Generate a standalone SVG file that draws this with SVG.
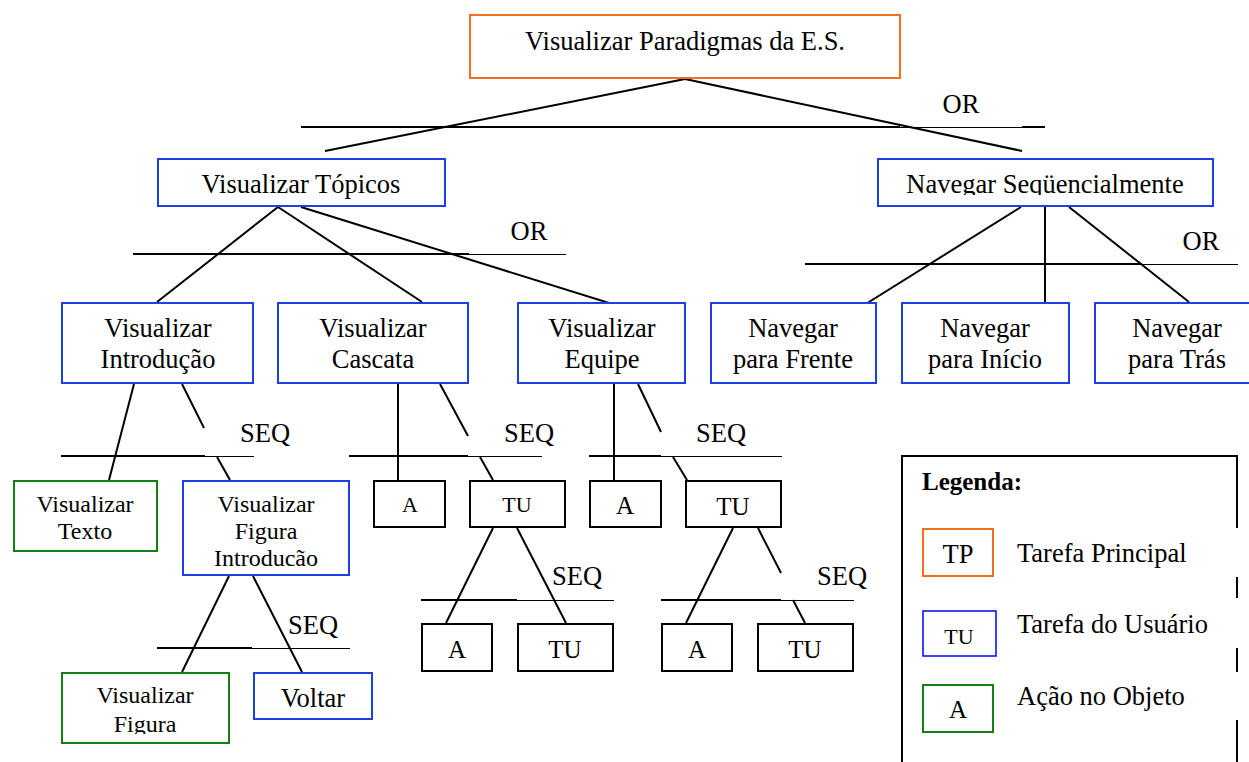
<svg xmlns="http://www.w3.org/2000/svg" width="1249" height="762" viewBox="0 0 1249 762">
  <style>
    .box { fill: #fff; stroke-width: 2; }
    .tp { stroke: #f07020; }
    .tu { stroke: #1f40e6; }
    .ac { stroke: #148014; }
    .bk { stroke: #000; }
    text { font-family: "Liberation Serif", "Times New Roman", serif; font-size: 26.5px; fill: #000; text-anchor: middle; }
    .s24 { font-size: 24px; }
    .s25 { font-size: 25px; }
    .s22 { font-size: 22px; }
    .lbl { text-anchor: start; }
    .ln { stroke: #000; stroke-width: 2; fill: none; }
    .th { stroke: #000; stroke-width: 1; fill: none; }
  </style>
  <defs>
    <clipPath id="clipSeq"><rect x="877" y="158" width="337" height="37"/></clipPath>
    <clipPath id="clipFigIntro"><rect x="182" y="480" width="168" height="86"/></clipPath>
    <clipPath id="clipFig"><rect x="61" y="672" width="169" height="62"/></clipPath>
  </defs>
  <rect width="1249" height="762" fill="#fff"/>

  <!-- connectors and decomposition bars -->
  <g id="connectors">
    <!-- root: OR -->
    <line class="ln" x1="685" y1="79" x2="325" y2="151"/>
    <line class="ln" x1="685" y1="79" x2="1022" y2="151"/>
    <line class="ln" x1="301" y1="127" x2="900" y2="127"/>
    <line class="th" x1="900" y1="127.5" x2="1022" y2="127.5"/>
    <line class="ln" x1="1022" y1="127" x2="1045" y2="127"/>
    <text x="961" y="113">OR</text>

    <!-- Visualizar Tópicos: OR -->
    <line class="ln" x1="278" y1="207" x2="157" y2="302"/>
    <line class="ln" x1="278" y1="207" x2="422" y2="302"/>
    <line class="ln" x1="301" y1="207" x2="638" y2="312"/>
    <line class="ln" x1="133" y1="254" x2="469" y2="254"/>
    <line class="th" x1="469" y1="254.5" x2="566" y2="254.5"/>
    <text x="529" y="240">OR</text>

    <!-- Navegar Seqüencialmente: OR -->
    <line class="ln" x1="1021" y1="207" x2="853" y2="312"/>
    <line class="ln" x1="1045" y1="207" x2="1045" y2="302"/>
    <line class="ln" x1="1069" y1="207" x2="1189" y2="302"/>
    <line class="ln" x1="805" y1="264" x2="1142" y2="264"/>
    <line class="th" x1="1142" y1="264.5" x2="1238" y2="264.5"/>
    <text x="1201" y="250">OR</text>

    <!-- Visualizar Introdução: SEQ -->
    <line class="ln" x1="134" y1="384" x2="109" y2="480"/>
    <line class="ln" x1="182" y1="384" x2="204" y2="428"/>
    <line class="ln" x1="217" y1="457" x2="230" y2="480"/>
    <line class="ln" x1="61" y1="456" x2="205" y2="456"/>
    <line class="th" x1="205" y1="456.5" x2="254" y2="456.5"/>
    <text x="265" y="442">SEQ</text>

    <!-- Visualizar Cascata: SEQ -->
    <line class="ln" x1="398" y1="384" x2="398" y2="480"/>
    <line class="ln" x1="440" y1="384" x2="468" y2="436"/>
    <line class="ln" x1="480" y1="457" x2="493" y2="480"/>
    <line class="ln" x1="349" y1="456" x2="468" y2="456"/>
    <line class="th" x1="468" y1="456.5" x2="542" y2="456.5"/>
    <text x="529" y="442">SEQ</text>

    <!-- Visualizar Equipe: SEQ -->
    <line class="ln" x1="614" y1="384" x2="614" y2="480"/>
    <line class="ln" x1="638" y1="384" x2="661" y2="432"/>
    <line class="ln" x1="673" y1="457" x2="687" y2="480"/>
    <line class="ln" x1="589" y1="456" x2="661" y2="456"/>
    <line class="th" x1="661" y1="456.5" x2="782" y2="456.5"/>
    <text x="721" y="442">SEQ</text>

    <!-- Visualizar Figura Introdução: SEQ -->
    <line class="ln" x1="229" y1="576" x2="182" y2="672"/>
    <line class="ln" x1="253" y1="576" x2="302" y2="672"/>
    <line class="ln" x1="157" y1="648" x2="252" y2="648"/>
    <line class="th" x1="252" y1="648.5" x2="350" y2="648.5"/>
    <text x="313" y="634">SEQ</text>

    <!-- TU under Cascata: SEQ -->
    <line class="ln" x1="493" y1="528" x2="446" y2="623"/>
    <line class="ln" x1="517" y1="528" x2="566" y2="623"/>
    <line class="ln" x1="421" y1="600" x2="517" y2="600"/>
    <line class="th" x1="517" y1="600.5" x2="614" y2="600.5"/>
    <text x="577" y="585">SEQ</text>

    <!-- TU under Equipe: SEQ -->
    <line class="ln" x1="733" y1="528" x2="686" y2="623"/>
    <line class="ln" x1="758" y1="528" x2="781" y2="573"/>
    <line class="ln" x1="793" y1="600" x2="805" y2="623"/>
    <line class="ln" x1="661" y1="600" x2="781" y2="600"/>
    <line class="th" x1="781" y1="600.5" x2="854" y2="600.5"/>
    <text x="842" y="585">SEQ</text>
  </g>

  <!-- main task -->
  <g id="n-root">
    <rect class="box tp" x="470" y="15" width="430" height="63"/>
    <text x="685" y="50">Visualizar Paradigmas da E.S.</text>
  </g>

  <!-- level 1 -->
  <g id="n-topicos">
    <rect class="box tu" x="158" y="159" width="287" height="47"/>
    <text x="301" y="193">Visualizar Tópicos</text>
  </g>
  <g id="n-navseq">
    <rect class="box tu" x="878" y="159" width="335" height="47"/>
    <text x="1045" y="193" clip-path="url(#clipSeq)">Navegar Seqüencialmente</text>
  </g>

  <!-- level 2 -->
  <g id="n-intro">
    <rect class="box tu" x="62" y="303" width="191" height="80"/>
    <text x="158" y="337">Visualizar</text>
    <text x="158" y="368">Introdução</text>
  </g>
  <g id="n-cascata">
    <rect class="box tu" x="278" y="303" width="190" height="80"/>
    <text x="373" y="337">Visualizar</text>
    <text x="373" y="368">Cascata</text>
  </g>
  <g id="n-equipe">
    <rect class="box tu" x="518" y="303" width="167" height="80"/>
    <text x="602" y="337">Visualizar</text>
    <text x="602" y="368">Equipe</text>
  </g>
  <g id="n-frente">
    <rect class="box tu" x="711" y="303" width="165" height="80"/>
    <text x="793" y="337">Navegar</text>
    <text x="793" y="368">para Frente</text>
  </g>
  <g id="n-inicio">
    <rect class="box tu" x="902" y="303" width="167" height="80"/>
    <text x="985" y="337">Navegar</text>
    <text x="985" y="368">para Início</text>
  </g>
  <g id="n-tras">
    <rect class="box tu" x="1095" y="303" width="166" height="80"/>
    <text x="1177" y="337">Navegar</text>
    <text x="1177" y="368">para Trás</text>
  </g>

  <!-- level 3 -->
  <g id="n-texto">
    <rect class="box ac" x="14" y="481" width="143" height="70"/>
    <text class="s24" x="85" y="512">Visualizar</text>
    <text class="s24" x="85" y="539">Texto</text>
  </g>
  <g id="n-figintro">
    <rect class="box tu" x="183" y="481" width="166" height="94"/>
    <g clip-path="url(#clipFigIntro)">
      <text class="s24" x="266" y="512">Visualizar</text>
      <text class="s24" x="266" y="539">Figura</text>
      <text class="s24" x="266" y="566">Introdução</text>
    </g>
  </g>
  <g id="n-cascata-a">
    <rect class="box bk" x="374" y="481" width="71" height="46"/>
    <text class="s22" x="410" y="512">A</text>
  </g>
  <g id="n-cascata-tu">
    <rect class="box bk" x="470" y="481" width="95" height="46"/>
    <text class="s22" x="517" y="512">TU</text>
  </g>
  <g id="n-equipe-a">
    <rect class="box bk" x="590" y="481" width="71" height="46"/>
    <text class="s25" x="625" y="514">A</text>
  </g>
  <g id="n-equipe-tu">
    <rect class="box bk" x="686" y="481" width="95" height="46"/>
    <text class="s25" x="733" y="515">TU</text>
  </g>

  <!-- level 4 -->
  <g id="n-cascata-tu-a">
    <rect class="box bk" x="422" y="624" width="70" height="47"/>
    <text class="s25" x="457" y="658">A</text>
  </g>
  <g id="n-cascata-tu-tu">
    <rect class="box bk" x="518" y="624" width="95" height="47"/>
    <text class="s25" x="565" y="658">TU</text>
  </g>
  <g id="n-equipe-tu-a">
    <rect class="box bk" x="662" y="624" width="70" height="47"/>
    <text class="s25" x="697" y="658">A</text>
  </g>
  <g id="n-equipe-tu-tu">
    <rect class="box bk" x="758" y="624" width="95" height="47"/>
    <text class="s25" x="805" y="658">TU</text>
  </g>
  <g id="n-figura">
    <rect class="box ac" x="62" y="673" width="167" height="70"/>
    <g clip-path="url(#clipFig)">
      <text class="s24" x="145" y="703">Visualizar</text>
      <text class="s24" x="145" y="732">Figura</text>
    </g>
  </g>
  <g id="n-voltar">
    <rect class="box tu" x="254" y="673" width="118" height="46"/>
    <text x="313" y="707">Voltar</text>
  </g>

  <!-- legend -->
  <g id="legend">
    <path class="ln" d="M902 770 V456 H1237"/>
    <path class="ln" d="M1237 455 V528 M1237 577 V598 M1237 648 V672 M1237 720 V770"/>
    <text class="lbl" x="922" y="490" style="font-weight:bold;font-size:25px">Legenda:</text>
    <rect class="box tp" x="923" y="529" width="70" height="47"/>
    <text x="958" y="563">TP</text>
    <text class="lbl" x="1017" y="562">Tarefa Principal</text>
    <rect x="923" y="611" width="73" height="45" fill="#fff" stroke="#0000ff" stroke-width="1.5"/>
    <text class="s22" x="959" y="644">TU</text>
    <text class="lbl" x="1017" y="633">Tarefa do Usuário</text>
    <rect class="box ac" x="923" y="685" width="70" height="47"/>
    <text class="s25" x="958" y="718">A</text>
    <text class="lbl" x="1017" y="705">Ação no Objeto</text>
  </g>
</svg>
